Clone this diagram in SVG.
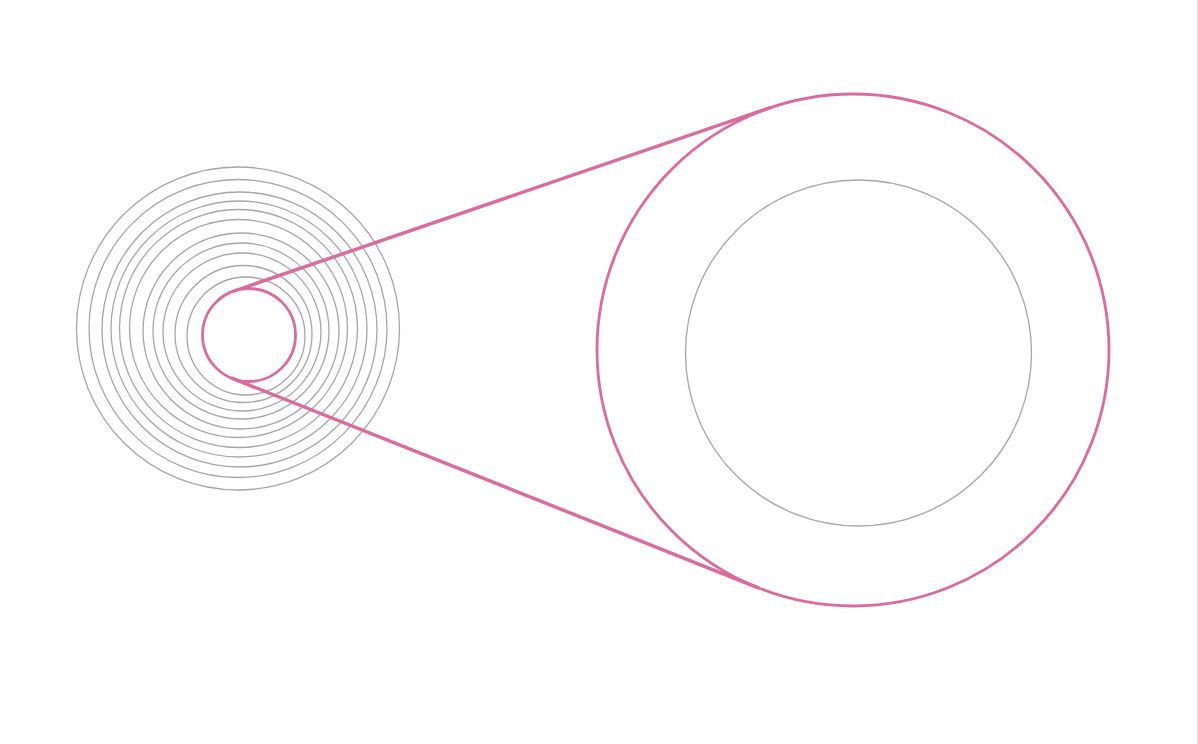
<svg xmlns="http://www.w3.org/2000/svg" width="1198" height="744" viewBox="0 0 1198 744">
<style>
.ring{fill:none;stroke:#a6a6a6;stroke-width:1.3}
.pink{fill:none;stroke:#db6a9d;stroke-width:2.8}
.conn{fill:none;stroke:#db6a9d;stroke-width:3.4;stroke-linecap:round}
</style>
<rect width="1198" height="744" fill="#ffffff"/>
<line x1="1197.5" y1="0" x2="1197.5" y2="744" stroke="#dcdcdc" stroke-width="1"/>
<g id="rings">
<circle class="ring" cx="238" cy="328.5" r="161.5"/>
<circle class="ring" cx="238" cy="328.5" r="149"/>
<circle class="ring" cx="239.5" cy="329.5" r="137.5"/>
<circle class="ring" cx="239" cy="329" r="128"/>
<circle class="ring" cx="238.5" cy="328.5" r="119"/>
<circle class="ring" cx="238.5" cy="328.5" r="109"/>
<circle class="ring" cx="241" cy="331" r="98"/>
<circle class="ring" cx="241" cy="331" r="88"/>
<circle class="ring" cx="242" cy="332" r="79"/>
<circle class="ring" cx="243.5" cy="334" r="68.5"/>
<circle class="ring" cx="246" cy="336" r="59"/>
</g>
<g id="connectors">
<path class="conn" d="M234 291 L770 107.7"/>
<path class="conn" d="M231.8 378.2 L758.3 587.8"/>
</g>
<g id="small">
<circle class="pink" cx="249" cy="335" r="46.5"/>
</g>
<g id="big">
<circle class="pink" cx="853" cy="350" r="256"/>
<circle class="ring" cx="858.5" cy="353" r="173"/>
</g>
</svg>
